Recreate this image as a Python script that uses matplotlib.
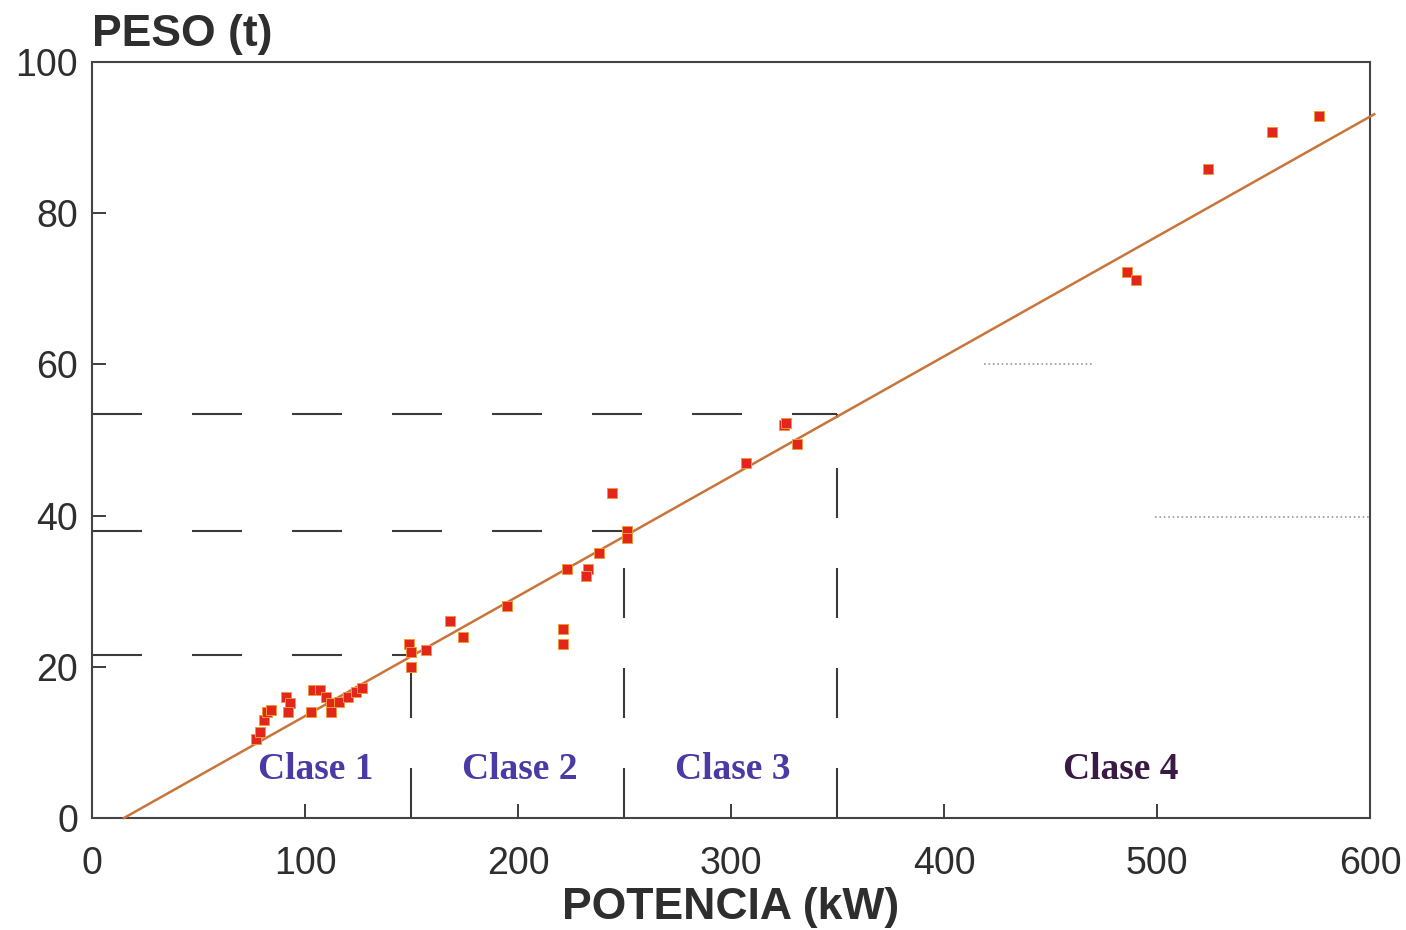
import matplotlib
matplotlib.use("Agg")
import matplotlib.pyplot as plt

# datos
potencia = [77, 79, 81, 82, 84, 91, 93, 92, 104, 107, 110, 103, 112, 112, 116, 120, 124, 127,
            149, 150, 150, 157, 168, 174, 195, 221, 221, 223, 233, 232, 238, 244, 251, 251,
            307, 325, 326, 331, 486, 490, 524, 554, 576]
peso = [10.5, 11.4, 13, 14, 14.3, 16, 15.2, 14, 17, 17, 16, 14, 15.2, 14, 15.4, 16, 16.7, 17.2,
        23, 22, 20, 22.2, 26, 24, 28, 25, 23, 33, 33, 32, 35, 43, 38, 37,
        47, 52, 52.3, 49.5, 72.2, 71.2, 85.8, 90.8, 92.9]

recta_x = [15, 602]
recta_y = [0, 93.1]

limites = [150, 250, 350]
peso_limite = [21.5, 38, 53.5]

clases = ["Clase 1", "Clase 2", "Clase 3", "Clase 4"]
clase_x = [105, 201, 301, 483]
clase_col = ["#4b3aa6", "#4b3aa6", "#4b3aa6", "#3a1a44"]

xticks = [0, 100, 200, 300, 400, 500, 600]
yticks = [0, 20, 40, 60, 80, 100]

gris = "#2e2e2e"
plt.rcParams['font.family'] = ['Liberation Sans', 'DejaVu Sans']

fig = plt.figure(figsize=(14.06, 9.30), dpi=100)
ax = fig.add_axes([0.0654, 0.1204, 0.909, 0.8129])

# lineas discontinuas de los limites de clase
for xl, yl in zip(limites, peso_limite):
    ax.plot([0, xl], [yl, yl], color="#3a3a3a", lw=1.5, dashes=(24, 24))
    ax.plot([xl, xl], [0, yl], color="#3a3a3a", lw=1.5, dashes=(24, 24))

# restos de rejilla punteada
ax.plot([419, 470], [60, 60], color="#999999", lw=1.2, ls=":")
ax.plot([499, 600], [39.8, 39.8], color="#999999", lw=1.2, ls=":")

ax.plot(recta_x, recta_y, color="#c8743a", lw=1.8, zorder=3, clip_on=False)
ax.plot(potencia, peso, ls="none", marker="s", ms=6.5, color="#e3261c",
        mec="#f09a3a", mew=0.7, zorder=4)

for txt, xc, col in zip(clases, clase_x, clase_col):
    ax.text(xc, 6.4, txt, ha="center", va="center", color=col, fontsize=27,
            fontweight="bold", family="Liberation Serif")

ax.set_xlim(0, 600)
ax.set_ylim(0, 100)
ax.set_xticks(xticks)
ax.set_yticks(yticks)
ax.tick_params(direction="in", length=10, width=1.3, color=gris, labelcolor=gris,
               labelsize=27)
ax.tick_params(axis="x", pad=20)
ax.tick_params(axis="y", pad=10)
for s in ax.spines.values():
    s.set_color("#444444")
    s.set_linewidth(1.5)

ax.set_xlabel("POTENCIA (kW)", fontsize=32, fontweight="bold", color=gris, labelpad=4)
ax.text(0.0, 1.064, "PESO (t)", transform=ax.transAxes, fontsize=32,
        fontweight="bold", color=gris, ha="left", va="top")

fig.savefig("out.png", dpi=100, facecolor="white")
